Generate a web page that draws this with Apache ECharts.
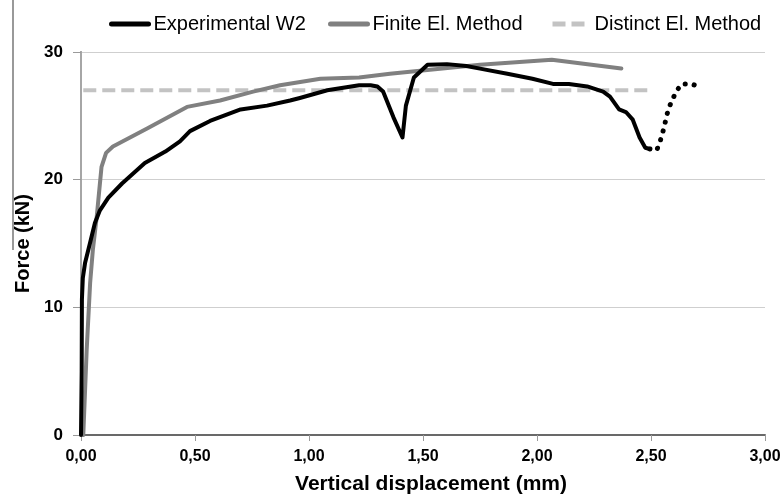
<!DOCTYPE html>
<html>
<head>
<meta charset="utf-8">
<script src="https://cdn.jsdelivr.net/npm/echarts@6/dist/echarts.min.js"></script>
<style>
html,body{margin:0;padding:0;background:#fff;}
#chart{width:784px;height:497px;}
</style>
</head>
<body>
<div id="chart"></div>
<script>
// Experimental W2 (solid part)
const expDisp = [0, 0.003, 0.004, 0.008, 0.018, 0.039, 0.061, 0.083, 0.12, 0.18, 0.23, 0.28, 0.37, 0.434, 0.478, 0.566, 0.70, 0.816, 0.917, 0.96, 1.08, 1.22, 1.27, 1.30, 1.325, 1.37, 1.41, 1.425, 1.46, 1.52, 1.605, 1.69, 1.75, 1.87, 1.98, 2.07, 2.14, 2.22, 2.29, 2.32, 2.36, 2.39, 2.42, 2.45, 2.475, 2.495];
const expForce = [0, 5, 10.6, 12.3, 13.5, 15.0, 16.6, 17.6, 18.6, 19.7, 20.5, 21.3, 22.2, 23.0, 23.8, 24.6, 25.5, 25.8, 26.2, 26.4, 27.0, 27.4, 27.4, 27.3, 26.9, 24.9, 23.3, 25.8, 28.0, 29.0, 29.05, 28.9, 28.7, 28.3, 27.9, 27.5, 27.5, 27.3, 26.9, 26.5, 25.5, 25.3, 24.7, 23.3, 22.5, 22.4];
// Experimental W2 (dotted continuation)
const expDotDisp = [2.495, 2.525, 2.54, 2.55, 2.56, 2.57, 2.58, 2.61, 2.635, 2.675, 2.71];
const expDotForce = [22.4, 22.3, 23.0, 23.6, 24.3, 25.1, 25.7, 26.9, 27.5, 27.5, 27.3];
// Finite El. Method
const femDisp = [0.01, 0.025, 0.04, 0.052, 0.069, 0.083, 0.09, 0.11, 0.14, 0.29, 0.465, 0.61, 0.755, 0.873, 1.05, 1.22, 1.355, 1.75, 2.065, 2.37];
const femForce = [0, 6.7, 11.9, 14.5, 17.1, 19.7, 21.0, 22.1, 22.6, 24.0, 25.7, 26.2, 26.9, 27.4, 27.9, 28.0, 28.3, 29.0, 29.4, 28.7];
// Distinct El. Method
const demDisp = [0.01, 2.49];
const demForce = [27, 27];

const names = ['Experimental W2', 'Finite El. Method', 'Distinct El. Method'];
const xTicks = [0, 0.5, 1, 1.5, 2, 2.5, 3];
const yTicks = [0, 10, 20, 30];

const zip = (a, b) => a.map((v, i) => [v, b[i]]);
const FONT = '"Liberation Sans", Arial, sans-serif';

const chart = echarts.init(document.getElementById('chart'), null, {renderer: 'canvas'});
const legendBase = {
  top: 9, itemWidth: 37, itemHeight: 14,
  textStyle: {fontFamily: FONT, fontSize: 20, color: '#000'},
  itemStyle: {opacity: 0},
  lineStyle: {width: 5},
  selectedMode: false
};
chart.setOption({
  animation: false,
  backgroundColor: '#fff',
  grid: {left: 81, right: 19, top: 52, bottom: 62, containLabel: false, outerBoundsMode: 'none'},
  legend: [
    Object.assign({left: 104, data: [names[0]]}, legendBase),
    Object.assign({left: 323, data: [names[1]]}, legendBase),
    Object.assign({left: 545, data: [names[2]]}, legendBase)
  ],
  graphic: [{type: 'line', shape: {x1: 13, y1: 0, x2: 13, y2: 250}, style: {stroke: '#777', lineWidth: 1.5}}],
  xAxis: [{
    type: 'value', min: 0, max: 3, interval: 0.5,
    name: 'Vertical displacement (mm)', nameLocation: 'middle', nameGap: 39,
    nameTextStyle: {fontFamily: FONT, fontSize: 21, fontWeight: 'bold', color: '#000', padding: [0, 0, 0, 16]},
    axisLine: {show: true, onZero: false, lineStyle: {color: '#9a9a9a', width: 2}},
    axisTick: {show: true, length: 6, lineStyle: {color: '#9a9a9a', width: 1}},
    axisLabel: {fontFamily: FONT, fontSize: 16, fontWeight: 'bold', color: '#000', margin: 14,
      formatter: v => v.toFixed(2).replace('.', ',')},
    splitLine: {show: false}
  }, {
    type: 'value', min: 0, max: 3, position: 'top',
    axisLine: {show: true, lineStyle: {color: '#5a5a5a', width: 1.5}},
    axisTick: {show: false}, axisLabel: {show: false}, splitLine: {show: false}
  }],
  yAxis: [{
    type: 'value', min: 0, max: 30, interval: 10,
    name: 'Force (kN)', nameLocation: 'middle', nameGap: 47,
    nameTextStyle: {fontFamily: FONT, fontSize: 20, fontWeight: 'bold', color: '#000'},
    axisLine: {show: true, lineStyle: {color: '#9a9a9a', width: 2}},
    axisTick: {show: true, length: 8, lineStyle: {color: '#9a9a9a', width: 1}},
    axisLabel: {fontFamily: FONT, fontSize: 17, fontWeight: 'bold', color: '#000', margin: 18},
    splitLine: {show: true, lineStyle: {color: '#cfcfcf', width: 1.2}}
  }, {
    type: 'value', min: 0, max: 30, position: 'right',
    axisLine: {show: true, lineStyle: {color: '#a6a6a6', width: 2}},
    axisTick: {show: false}, axisLabel: {show: false}, splitLine: {show: false}
  }],
  series: [{
    name: names[0], type: 'line', data: zip(expDisp, expForce), showSymbol: false, symbol: 'none',
    lineStyle: {color: '#000', width: 4, join: 'round', cap: 'round'}, itemStyle: {color: '#000'}, z: 4
  }, {
    name: 'Experimental W2 (dotted)', type: 'line', data: zip(expDotDisp, expDotForce), showSymbol: false, symbol: 'none',
    lineStyle: {color: '#000', width: 5, type: [0.1, 9], cap: 'round'}, z: 4
  }, {
    name: names[1], type: 'line', data: zip(femDisp, femForce), showSymbol: false, symbol: 'none',
    lineStyle: {color: '#808080', width: 4, join: 'round', cap: 'round'}, itemStyle: {color: '#808080'}, z: 3
  }, {
    name: names[2], type: 'line', data: zip(demDisp, demForce), showSymbol: false, symbol: 'none',
    lineStyle: {color: '#c3c3c3', width: 4, type: [13, 6]}, itemStyle: {color: '#c3c3c3'}, z: 2
  }]
});
</script>
</body>
</html>
